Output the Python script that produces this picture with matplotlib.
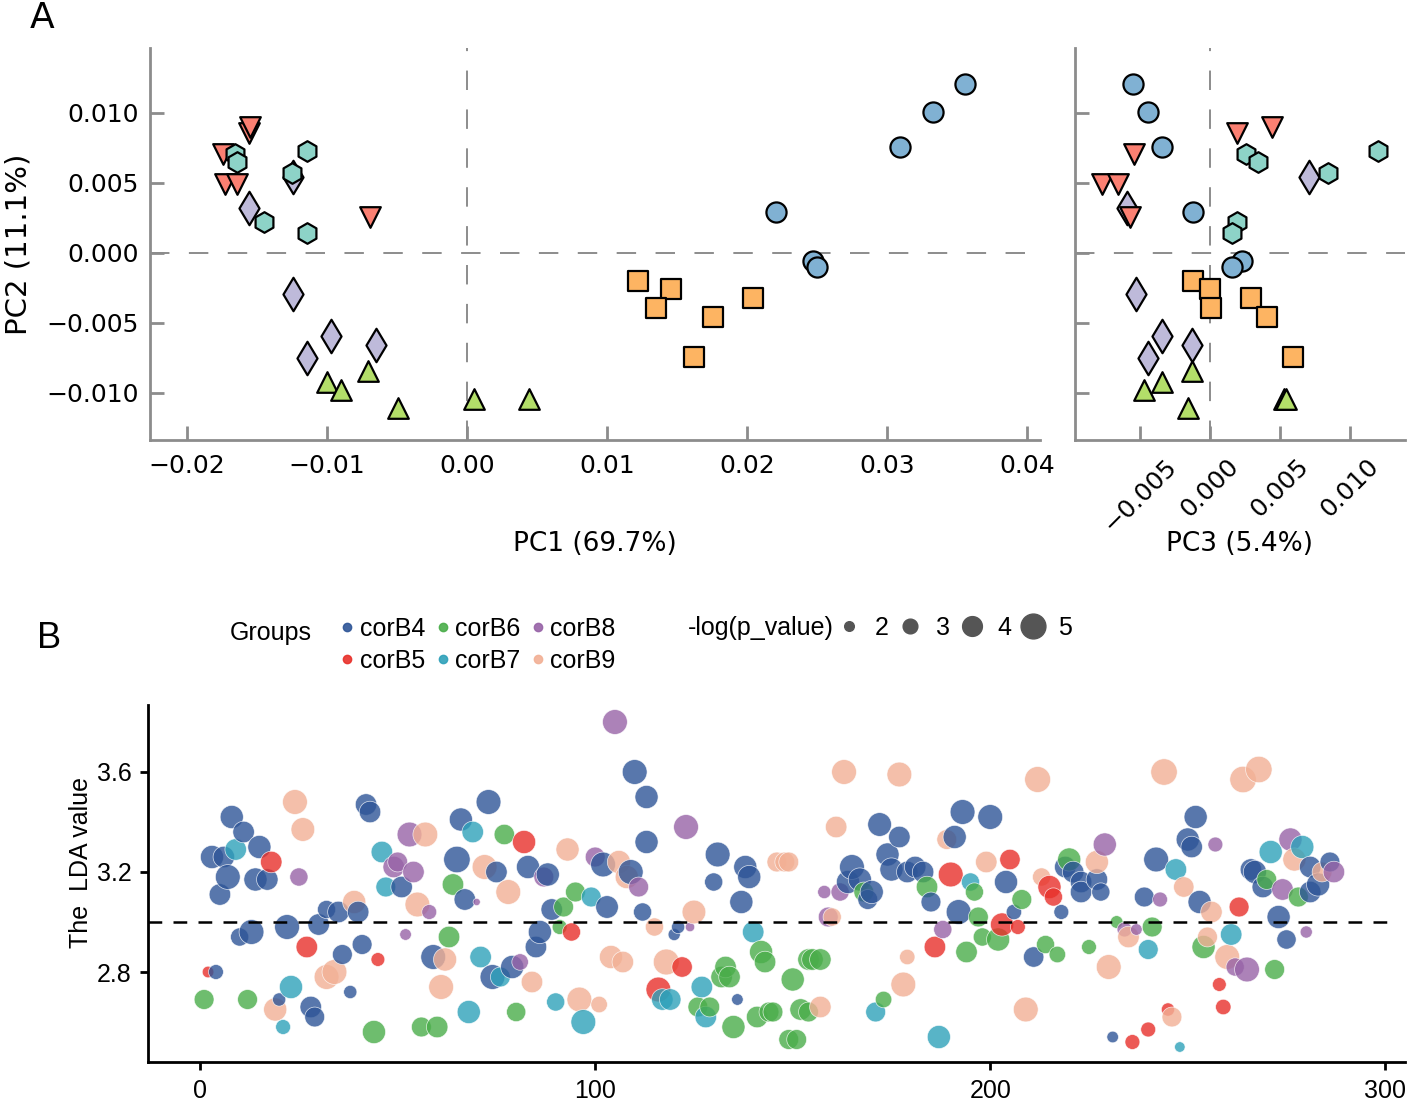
import matplotlib
matplotlib.use('Agg')
import matplotlib.pyplot as plt
from matplotlib.lines import Line2D
from matplotlib.ticker import FuncFormatter
import numpy as np
import pandas as pd

# ---------------- Panel A : PCA scores ----------------
pca_groups = ['circle', 'square', 'tri_up', 'diamond', 'tri_down', 'hexagon']
pca_markers = {'circle': 'o', 'square': 's', 'tri_up': '^', 'diamond': 'd',
               'tri_down': 'v', 'hexagon': 'h'}
pca_sizes = {'circle': 210, 'square': 210, 'tri_up': 220, 'diamond': 290,
             'tri_down': 220, 'hexagon': 220}
pca_colors = {'circle': '#80b1d3', 'square': '#fdb462', 'tri_up': '#b3de69',
              'diamond': '#bebada', 'tri_down': '#fb8072', 'hexagon': '#8dd3c7'}

pc1 = {
    'circle':   [0.0356, 0.0333, 0.0309, 0.0221, 0.0247, 0.0250],
    'square':   [0.0122, 0.0146, 0.0135, 0.0204, 0.0176, 0.0162],
    'tri_up':   [-0.0100, -0.0090, -0.0071, -0.0049, 0.0005, 0.0044],
    'diamond':  [-0.0124, -0.0156, -0.0124, -0.0097, -0.0114, -0.0065],
    'tri_down': [-0.0174, -0.0173, -0.0164, -0.0156, -0.0155, -0.0069],
    'hexagon':  [-0.0114, -0.0166, -0.0164, -0.0125, -0.0145, -0.0114],
}
pc2 = {
    'circle':   [0.0121, 0.0101, 0.0076, 0.0029, -0.0006, -0.0010],
    'square':   [-0.0020, -0.0026, -0.0039, -0.0032, -0.0046, -0.0074],
    'tri_up':   [-0.0092, -0.0098, -0.0084, -0.0111, -0.0104, -0.0104],
    'diamond':  [0.0054, 0.0032, -0.0029, -0.0059, -0.0075, -0.0066],
    'tri_down': [0.0071, 0.0049, 0.0049, 0.0086, 0.0090, 0.0026],
    'hexagon':  [0.0073, 0.0071, 0.0065, 0.0057, 0.0022, 0.0014],
}
pc3 = {
    'circle':   [-0.0055, -0.0044, -0.0034, -0.0012, 0.0023, 0.0016],
    'square':   [-0.0012, 0.0000, 0.0001, 0.0029, 0.0041, 0.0059],
    'tri_up':   [-0.0034, -0.0047, -0.0013, -0.0016, 0.0053, 0.0054],
    'diamond':  [0.0071, -0.0059, -0.0053, -0.0034, -0.0044, -0.0013],
    'tri_down': [-0.0054, -0.0077, -0.0066, 0.0019, 0.0044, -0.0057],
    'hexagon':  [0.0120, 0.0026, 0.0034, 0.0084, 0.0019, 0.0016],
}

# ---------------- Panel B : LDA bubbles ----------------
group_names = ['corB4', 'corB5', 'corB6', 'corB7', 'corB8', 'corB9']
group_colors = {'corB4': '#2e5597', 'corB5': '#e8302a', 'corB6': '#4aad4a',
                'corB7': '#2ea1ba', 'corB8': '#9763a7', 'corB9': '#f2b095'}

lda_x = {
    'corB4': [8, 11, 15, 3, 6, 7, 14, 17, 5, 42, 43, 32, 35, 40, 22, 30, 13, 10, 36, 41,
              4, 20, 28, 29, 38, 110, 113, 113, 73, 66, 102, 109, 65, 75, 83, 88, 67, 51,
              89, 103, 112, 86, 85, 59, 74, 79, 172, 177, 174, 175, 131, 130, 138, 139,
              137, 121, 120, 136, 165, 164, 167, 170, 169, 193, 200, 191, 181, 183, 179,
              204, 185, 192, 206, 211, 218, 219, 221, 223, 223, 227, 228, 239, 242, 231,
              252, 250, 251, 253, 273, 275, 267, 266, 269, 281, 281, 283, 286],
    'corB5': [18, 27, 45, 2, 82, 94, 122, 116, 190, 205, 203, 207, 186, 215, 216, 236,
              240, 263, 258, 259, 245],
    'corB6': [1, 12, 44, 77, 64, 92, 95, 91, 63, 80, 56, 60, 126, 129, 135, 133, 132, 134,
              142, 143, 150, 141, 145, 144, 152, 154, 149, 151, 154, 155, 157, 168, 173,
              196, 184, 208, 197, 198, 202, 194, 214, 217, 220, 225, 232, 241, 254, 272,
              270, 278],
    'corB7': [9, 46, 47, 23, 21, 69, 99, 71, 76, 90, 97, 68, 117, 119, 127, 128, 140, 171,
              195, 187, 240, 247, 261, 248, 271, 279],
    'corB8': [25, 105, 53, 100, 111, 87, 70, 50, 49, 54, 58, 52, 81, 123, 124, 158, 162,
              159, 188, 229, 234, 237, 257, 243, 262, 265, 280, 274, 276, 287],
    'corB9': [24, 26, 39, 32, 34, 19, 57, 93, 106, 108, 72, 78, 55, 62, 84, 61, 96, 101,
              104, 107, 163, 177, 161, 146, 148, 149, 125, 115, 118, 157, 160, 212, 189,
              199, 179, 178, 209, 213, 227, 230, 235, 244, 264, 268, 249, 256, 255, 260,
              246, 277, 284],
}
lda_value = {
    'corB4': [3.42, 3.36, 3.30, 3.26, 3.26, 3.18, 3.17, 3.17, 3.11, 3.47, 3.44, 3.05, 3.04,
              3.04, 2.98, 2.99, 2.96, 2.94, 2.87, 2.91, 2.80, 2.69, 2.66, 2.62, 2.72, 3.60,
              3.50, 3.32, 3.48, 3.41, 3.23, 3.20, 3.25, 3.20, 3.22, 3.19, 3.09, 3.14, 3.05,
              3.06, 3.04, 2.96, 2.90, 2.86, 2.78, 2.82, 3.39, 3.34, 3.27, 3.21, 3.27, 3.16,
              3.22, 3.18, 3.08, 2.98, 2.95, 2.69, 3.22, 3.16, 3.17, 3.12, 3.09, 3.44, 3.42,
              3.34, 3.22, 3.20, 3.20, 3.16, 3.08, 3.04, 3.04, 2.86, 3.04, 3.22, 3.20, 3.16,
              3.12, 3.17, 3.12, 3.10, 3.25, 2.54, 3.42, 3.33, 3.30, 3.08, 3.02, 2.93, 3.20,
              3.21, 3.14, 3.22, 3.12, 3.15, 3.24],
    'corB5': [3.24, 2.90, 2.85, 2.80, 3.32, 2.96, 2.82, 2.73, 3.19, 3.25, 2.99, 2.98, 2.90,
              3.14, 3.10, 2.52, 2.57, 3.06, 2.75, 2.66, 2.65],
    'corB6': [2.69, 2.69, 2.56, 3.35, 3.15, 3.06, 3.12, 2.98, 2.94, 2.64, 2.58, 2.58, 2.66,
              2.66, 2.58, 2.82, 2.78, 2.78, 2.88, 2.84, 2.77, 2.62, 2.64, 2.64, 2.65, 2.64,
              2.53, 2.53, 2.85, 2.85, 2.85, 3.12, 2.69, 3.12, 3.14, 3.09, 3.02, 2.94, 2.93,
              2.88, 2.91, 2.87, 3.25, 2.90, 3.00, 2.98, 2.90, 2.81, 3.17, 3.10],
    'corB7': [3.29, 3.28, 3.14, 2.74, 2.58, 3.36, 3.10, 2.86, 2.78, 2.68, 2.60, 2.64, 2.69,
              2.69, 2.74, 2.62, 2.96, 2.64, 3.16, 2.54, 2.89, 3.21, 2.95, 2.50, 3.28, 3.30],
    'corB8': [3.18, 3.80, 3.35, 3.26, 3.14, 3.18, 3.08, 3.24, 3.22, 3.20, 3.04, 2.95, 2.84,
              3.38, 2.98, 3.12, 3.12, 3.02, 2.97, 3.31, 2.97, 2.97, 3.31, 3.09, 2.82, 2.81,
              2.96, 3.13, 3.33, 3.20],
    'corB9': [3.48, 3.37, 3.08, 2.78, 2.80, 2.65, 3.35, 3.29, 3.24, 3.18, 3.22, 3.12, 3.07,
              2.85, 2.76, 2.74, 2.69, 2.67, 2.86, 2.84, 3.60, 3.59, 3.38, 3.24, 3.24, 3.24,
              3.04, 2.98, 2.84, 2.66, 3.02, 3.57, 3.33, 3.24, 2.86, 2.75, 2.65, 3.18, 3.24,
              2.82, 2.94, 3.60, 3.57, 3.61, 3.14, 3.04, 2.94, 2.86, 2.62, 3.25, 3.20],
}
neg_log_p = {
    'corB4': [4.3, 4.0, 4.3, 4.3, 4.0, 4.6, 4.3, 4.0, 4.0, 4.0, 4.0, 3.4, 4.0, 4.0, 4.6, 4.0,
              4.6, 3.4, 3.7, 3.7, 2.8, 2.5, 4.0, 3.7, 2.5, 4.6, 4.3, 4.3, 4.6, 4.3, 4.6, 4.6,
              4.9, 4.0, 4.3, 4.3, 4.0, 4.0, 4.0, 4.2, 3.4, 4.3, 4.0, 4.6, 4.6, 4.3, 4.4, 4.0,
              4.3, 4.3, 4.6, 3.4, 4.3, 4.3, 4.3, 2.5, 2.3, 2.2, 4.6, 4.3, 4.3, 4.3, 3.7, 4.6,
              4.6, 4.3, 4.0, 4.0, 4.0, 4.3, 3.7, 4.6, 2.9, 3.8, 2.8, 4.0, 4.0, 4.0, 4.0, 4.0,
              3.4, 3.7, 4.6, 2.2, 4.3, 4.3, 4.0, 4.3, 4.3, 3.6, 4.3, 4.0, 4.0, 4.0, 4.0, 4.3,
              3.7],
    'corB5': [4.0, 4.0, 2.6, 2.2, 4.3, 3.4, 3.8, 4.6, 4.6, 3.8, 4.3, 2.8, 4.0, 4.3, 3.4, 2.8,
              2.8, 3.7, 2.6, 2.9, 2.5],
    'corB6': [3.7, 3.7, 4.3, 3.8, 4.0, 3.7, 3.7, 2.8, 4.0, 3.6, 3.7, 4.0, 3.7, 3.7, 4.3, 4.0,
              4.0, 4.0, 4.3, 4.0, 4.3, 4.0, 3.7, 3.7, 4.0, 3.7, 3.7, 3.7, 4.0, 4.0, 4.0, 3.7,
              3.1, 3.4, 4.0, 3.7, 3.7, 3.4, 4.3, 4.0, 3.4, 3.1, 4.3, 2.8, 2.4, 3.7, 4.3, 3.7,
              3.7, 3.7],
    'corB7': [4.0, 4.0, 3.7, 4.3, 2.8, 4.0, 3.7, 4.0, 3.7, 3.4, 4.6, 4.3, 4.0, 4.0, 4.0, 4.0,
              4.0, 3.7, 3.4, 4.3, 3.7, 4.0, 4.0, 2.0, 4.3, 4.3],
    'corB8': [3.4, 4.6, 4.6, 3.7, 3.7, 3.7, 1.4, 3.7, 4.0, 4.0, 2.8, 2.2, 3.1, 4.6, 1.8, 2.5,
              3.4, 3.7, 3.4, 4.3, 2.8, 2.2, 2.8, 2.8, 3.4, 4.6, 2.3, 4.0, 4.3, 4.0],
    'corB9': [4.6, 4.4, 4.3, 4.6, 4.6, 4.3, 4.6, 4.3, 4.3, 4.3, 4.6, 4.6, 4.6, 4.3, 4.0, 4.6,
              4.6, 3.1, 4.3, 4.0, 4.6, 4.6, 4.0, 3.7, 3.7, 3.7, 4.4, 3.4, 4.8, 4.0, 3.4, 4.8,
              3.7, 4.0, 2.9, 4.6, 4.6, 3.4, 4.3, 4.6, 4.0, 4.9, 4.9, 4.9, 3.8, 4.0, 3.7, 4.6,
              3.7, 4.3, 3.7],
}
size_legend_values = [2, 3, 4, 5]
lda_threshold = 3.0


def bubble_area(v):
    # -log(p) -> marker area in pt^2 (diameter grows linearly)
    d_px = 5.5 * np.asarray(v, dtype=float) - 0.5
    return (d_px * 0.72) ** 2


W, H = 1418, 1100
fig = plt.figure(figsize=(W / 100, H / 100), dpi=100)

axA = fig.add_axes([150 / W, 1 - 440 / H, 890 / W, 392 / H])
axA3 = fig.add_axes([1075 / W, 1 - 440 / H, 330 / W, 392 / H], sharey=axA)
axB = fig.add_axes([148 / W, 1 - 1062 / H, 1257 / W, 357 / H])

grey = '#8c8c8c'
dash = (0, (10, 10))

for g in pca_groups:
    axA.scatter(pc1[g], pc2[g], marker=pca_markers[g], s=pca_sizes[g], c=pca_colors[g],
                edgecolors='black', linewidths=1.6, zorder=3)
    axA3.scatter(pc3[g], pc2[g], marker=pca_markers[g], s=pca_sizes[g], c=pca_colors[g],
                 edgecolors='black', linewidths=1.6, zorder=3)


def fmt(n):
    def f(v, pos):
        if abs(v) < 1e-12:
            v = 0.0
        return ('{:.%df}' % n).format(v).replace('-', '\u2212')
    return FuncFormatter(f)


for ax in (axA, axA3):
    ax.axhline(0, color=grey, lw=1.4, ls=dash, zorder=1)
    ax.axvline(0, color=grey, lw=1.4, ls=dash, zorder=1)
    for s in ('top', 'right'):
        ax.spines[s].set_visible(False)
    for s in ('left', 'bottom'):
        ax.spines[s].set_color(grey)
        ax.spines[s].set_linewidth(2)
    ax.tick_params(direction='in', length=10, width=2, color=grey, labelsize=18)
    ax.tick_params(axis='x', pad=10)
    ax.tick_params(axis='y', pad=8)

axA.set_xlim(-0.02264, 0.04093)
axA.set_ylim(-0.01336, 0.01464)
axA.set_xticks([-0.02, -0.01, 0.0, 0.01, 0.02, 0.03, 0.04])
axA.set_yticks([-0.01, -0.005, 0.0, 0.005, 0.01])
axA.xaxis.set_major_formatter(fmt(2))
axA.yaxis.set_major_formatter(fmt(3))
axA.set_xlabel('PC1 (69.7%)', fontsize=19)
axA.xaxis.set_label_coords(0.5, -0.232)
axA.set_ylabel('PC2 (11.1%)', fontsize=21, labelpad=10)

axA3.set_xlim(-0.00964, 0.01393)
axA3.set_xticks([-0.005, 0.0, 0.005, 0.01])
axA3.xaxis.set_major_formatter(fmt(3))
axA3.tick_params(axis='y', labelleft=False)
plt.setp(axA3.get_xticklabels(), rotation=45)
axA3.set_xlabel('PC3 (5.4%)', fontsize=19)
axA3.xaxis.set_label_coords(0.5, -0.232)

# ---- panel B
rows = []
for g in group_names:
    for x, y, v in zip(lda_x[g], lda_value[g], neg_log_p[g]):
        rows.append((g, x, y, v))
df = pd.DataFrame(rows, columns=['group', 'index', 'lda', 'nlogp']).sort_values('index', kind='stable')

axB.scatter(df['index'], df['lda'], s=bubble_area(df['nlogp']),
            c=df['group'].map(group_colors), alpha=0.8,
            edgecolors='white', linewidths=0.5, zorder=2)
axB.hlines(lda_threshold, -13.2, 302, colors='black', lw=1.8, linestyles=(0, (5.5, 4.5)), zorder=3)

axB.set_xlim(-13.2, 305)
axB.set_ylim(2.44, 3.868)
axB.set_xticks([0, 100, 200, 300])
axB.set_yticks([2.8, 3.2, 3.6])
for s in ('top', 'right'):
    axB.spines[s].set_visible(False)
for s in ('left', 'bottom'):
    axB.spines[s].set_linewidth(2)
axB.tick_params(direction='out', length=6, width=2, labelsize=18, pad=6)
for lab in axB.get_xticklabels() + axB.get_yticklabels():
    lab.set_family('Liberation Sans')
axB.set_ylabel('The  LDA value', fontsize=18, family='Liberation Sans')
axB.yaxis.set_label_coords(-0.044, 0.56)

# legends
grp_handles = [Line2D([], [], marker='o', ls='', color=group_colors[g], alpha=0.9, markersize=6)
               for g in group_names]
leg1 = fig.legend(grp_handles, group_names, ncol=3, loc='upper left',
                  bbox_to_anchor=(341 / W, 1 - 617 / H), frameon=False,
                  prop={'family': 'Liberation Sans', 'size': 18},
                  handlelength=0.5, handletextpad=0.25, columnspacing=0.45,
                  labelspacing=0.3, borderpad=0, borderaxespad=0)
size_handles = [Line2D([], [], marker='o', ls='', color='#555555',
                       markersize=float(np.sqrt(bubble_area(v))) * 0.92) for v in size_legend_values]
leg2 = fig.legend(size_handles, [str(v) for v in size_legend_values], ncol=4, loc='center left',
                  bbox_to_anchor=(838 / W, 1 - 628 / H), frameon=False,
                  prop={'family': 'Liberation Sans', 'size': 18},
                  handlelength=0.9, handletextpad=0.57, columnspacing=0.42,
                  borderpad=0, borderaxespad=0)
fig.text(230 / W, 1 - 633 / H, 'Groups', fontsize=18, family='Liberation Sans', va='center')
fig.text(688 / W, 1 - 628 / H, '-log(p_value)', fontsize=18, family='Liberation Sans', va='center')

fig.text(30 / W, 1 - 18 / H, 'A', fontsize=26, va='center')
fig.text(37 / W, 1 - 638 / H, 'B', fontsize=26, va='center', family='Liberation Sans')

fig.savefig('out.png', dpi=100)
